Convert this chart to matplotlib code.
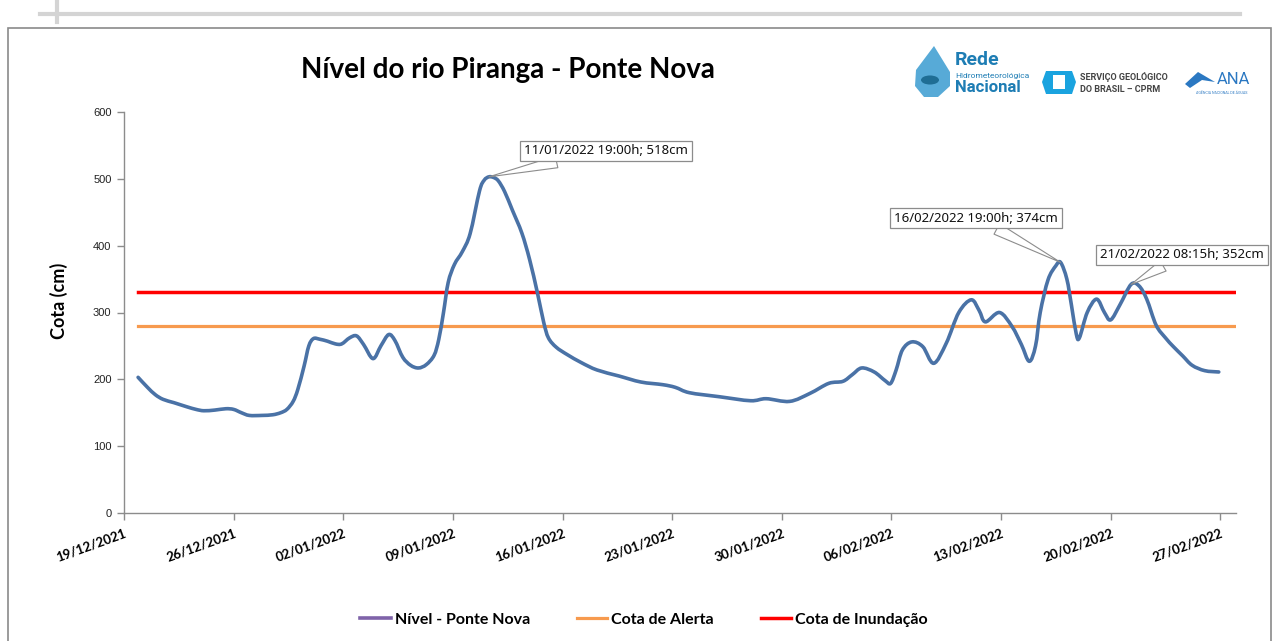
import numpy as np
import pandas as pd
import matplotlib
matplotlib.use("Agg")
import matplotlib.pyplot as plt
import matplotlib.dates as mdates
from matplotlib.patches import Rectangle, Polygon, Circle, PathPatch
from matplotlib.path import Path
from matplotlib.lines import Line2D

# --- data ---
start = pd.Timestamp("2021-12-19")
# days after 19/12/2021 and river level (cm)
nivel_dias = [0.9, 1.5, 2.0, 2.5, 3.2, 4.0, 4.6, 5.1, 5.8, 6.5, 7.0, 7.5, 8.0, 8.8,
              9.5, 10.0, 10.4, 10.8, 11.1, 11.5, 11.8, 12.1, 12.5, 13.0, 13.5, 13.9,
              14.4, 14.85, 15.3, 15.9, 16.4, 16.9, 17.3, 17.8, 18.3, 18.8, 19.3, 19.8,
              20.1, 20.4, 20.7, 21.1, 21.6, 22.1, 22.7, 23.0, 23.3, 23.6, 23.9, 24.3,
              24.8, 25.4, 25.9, 26.4, 26.8, 27.1, 27.6, 28.3, 29.2, 30.2, 31.6, 33.0,
              34.4, 35.2, 36.1, 38.0, 40.0, 41.0, 42.5, 43.8, 45.0, 45.9, 46.5, 47.1,
              47.9, 48.6, 48.95, 49.3, 49.7, 50.3, 51.0, 51.7, 52.5, 53.3, 54.1, 54.6,
              55.0, 55.9, 56.7, 57.3, 57.8, 58.2, 58.5, 59.0, 59.5, 59.8, 60.2, 60.5,
              60.8, 61.0, 61.5, 62.1, 62.6, 63.0, 63.6, 64.3, 64.8, 65.3, 65.9, 66.5,
              67.0, 67.6, 68.2, 69.0, 69.9]
nivel_cm = [203, 188, 177, 170, 165, 159, 155, 153, 154, 156, 155, 150, 146, 146,
            147, 150, 155, 167, 185, 220, 250, 261, 260, 257, 253, 253,
            262, 265, 252, 231, 250, 267, 258, 233, 221, 217, 222, 236,
            260, 300, 345, 372, 391, 418, 482, 498, 503, 502, 497, 481,
            453, 419, 379, 329, 285, 262, 248, 237, 225, 214, 205, 196,
            192, 188, 180, 174, 168, 171, 167, 179, 194, 197, 207, 217,
            211, 198, 194, 214, 244, 256, 249, 224, 254, 300, 319, 303,
            286, 300, 279, 252, 227, 250, 300, 349, 370, 375, 350, 310,
            268, 262, 300, 320, 300, 289, 312, 342, 340, 320, 281, 262,
            249, 235, 221, 213, 211]

cota_alerta = 280
cota_inundacao = 330
cota_dias = [0.9, 71.0]

# callouts: label, day of the drawn peak, value of the drawn peak
picos_texto = ["11/01/2022 19:00h; 518cm", "16/02/2022 19:00h; 374cm",
               "21/02/2022 08:15h; 352cm"]
picos_dias = [23.3, 59.8, 64.3]
picos_cm = [503, 375, 342]

tick_dias = list(range(0, 71, 7))

datas = start + pd.to_timedelta(nivel_dias, unit="D")
cota_datas = start + pd.to_timedelta(cota_dias, unit="D")
pico_datas = start + pd.to_timedelta(picos_dias, unit="D")
ticks = start + pd.to_timedelta(tick_dias, unit="D")


# Excel-like smoothed line: Catmull-Rom segments as cubic Bezier curves
def smooth_path(x, y):
    P = np.column_stack([x, y])
    n = len(P)
    verts = [P[0]]
    codes = [Path.MOVETO]
    for i in range(n - 1):
        p0 = P[i - 1] if i > 0 else P[i]
        p3 = P[i + 2] if i + 2 < n else P[i + 1]
        c1 = P[i] + (P[i + 1] - p0) / 6
        c2 = P[i + 1] - (p3 - P[i]) / 6
        verts += [c1, c2, P[i + 1]]
        codes += [Path.CURVE4] * 3
    return Path(verts, codes)


W, H = 1273, 641
fig = plt.figure(figsize=(W / 100, H / 100), dpi=100)
fig.patch.set_facecolor("white")

ax = fig.add_axes([124 / W, 1 - 513 / H, (1236 - 124) / W, (513 - 112) / H])

azul = "#4A72A6"
xnum = mdates.date2num(datas)
ax.add_patch(PathPatch(smooth_path(xnum, nivel_cm), fill=False, ec=azul, lw=2.6,
                       joinstyle="round", capstyle="round", zorder=3))
ax.plot(cota_datas, [cota_alerta] * 2, color="#F79A4E", lw=2.3, zorder=2)
ax.plot(cota_datas, [cota_inundacao] * 2, color="#FF0000", lw=2.5, zorder=2)

ax.set_ylim(0, 600)
ax.set_yticks(range(0, 601, 100))
ax.set_xlim(start, start + pd.Timedelta(days=71))
ax.set_xticks(ticks)
ax.xaxis.set_major_formatter(mdates.DateFormatter("%d/%m/%Y"))

for s in ["top", "right"]:
    ax.spines[s].set_visible(False)
for s in ["left", "bottom"]:
    ax.spines[s].set_color("#8C8C8C")
    ax.spines[s].set_linewidth(1.0)
ax.tick_params(axis="both", color="#8C8C8C", length=5, width=1, direction="out")
ax.tick_params(axis="y", labelsize=8, labelcolor="#222222", pad=4)
for lab in ax.get_yticklabels():
    lab.set_fontfamily("Liberation Sans")
for lab in ax.get_xticklabels():
    lab.set_rotation(20)
    lab.set_ha("right")
    lab.set_rotation_mode("anchor")
    lab.set_fontfamily("Lato")
    lab.set_fontweight("bold")
    lab.set_fontsize(9.5)
ax.tick_params(axis="x", pad=5)

ax.set_ylabel("Cota (cm)", fontsize=13, fontweight="bold", family="Lato")
ax.yaxis.set_label_coords(-0.05, 0.53)

fig.text(508 / W, 1 - 70 / H, "Nível do rio Piranga - Ponte Nova", ha="center",
         va="center", fontsize=20, fontweight="bold", family="Lato")

# callouts
caixas = [(606, 151), (976, 218), (1182, 255)]
for txt, d, v, (cx, cy) in zip(picos_texto, pico_datas, picos_cm, caixas):
    ax.annotate(txt, xy=(d, v), xytext=(cx, H - cy), textcoords="figure pixels",
                ha="center", va="center", fontsize=9.5, family="Noto Sans",
                color="#111111", annotation_clip=False, zorder=5,
                bbox=dict(boxstyle="square,pad=0.3", fc="white", ec="#8C8C8C", lw=0.9),
                arrowprops=dict(arrowstyle="wedge,tail_width=0.9,shrink_factor=0.5",
                                fc="white", ec="#8C8C8C", lw=0.8,
                                shrinkA=0, shrinkB=0))

# legend
handles = [Line2D([], [], color="#7F63A9", lw=2.6),
           Line2D([], [], color="#F79A4E", lw=2.3),
           Line2D([], [], color="#FF0000", lw=2.5)]
labels = ["Nível - Ponte Nova", "Cota de Alerta", "Cota de Inundação"]
fig.legend(handles, labels, loc="center", bbox_to_anchor=(0.506, 1 - 620 / H),
           ncol=3, frameon=False, handlelength=1.9, columnspacing=2.95,
           handletextpad=0.25,
           prop={"family": "Lato", "weight": "bold", "size": 11.5})

# frame and page decoration
fig.add_artist(Rectangle((8 / W, -0.01), (1271 - 8) / W, 1 - 28 / H + 0.01,
                         transform=fig.transFigure, fill=False, ec="#8A8A8A", lw=1.2))
fig.add_artist(plt.Line2D([40 / W, 1240 / W], [1 - 14 / H, 1 - 14 / H],
                          transform=fig.transFigure, color="#D4D4D4", lw=3))
fig.add_artist(plt.Line2D([57 / W, 57 / W], [1, 1 - 22 / H],
                          transform=fig.transFigure, color="#D4D4D4", lw=3))

# logos (approximated)
drop = Polygon([[934 / W, 1 - 46 / H], [950 / W, 1 - 72 / H], [950 / W, 1 - 86 / H],
                [938 / W, 1 - 97 / H], [924 / W, 1 - 97 / H], [915 / W, 1 - 86 / H],
                [916 / W, 1 - 70 / H]], closed=True, transform=fig.transFigure,
               fc="#3A9BD0", ec="none", alpha=0.85)
fig.add_artist(drop)
fig.add_artist(Circle((930 / W, 1 - 80 / H), 9 / W, transform=fig.transFigure,
                      fc="#1F6D94", ec="none"))
fig.text(955 / W, 1 - 60 / H, "Rede", fontsize=14, fontweight="bold",
         family="Roboto", color="#1E7DB4", va="center", fontstretch="condensed")
fig.text(955 / W, 1 - 76 / H, "Hidrometeorológica", fontsize=6, family="Roboto",
         color="#1E7DB4", va="center")
fig.text(955 / W, 1 - 88 / H, "Nacional", fontsize=12, fontweight="bold",
         family="Roboto", color="#1E7DB4", va="center")
hexa = Polygon([[1046 / W, 1 - 71 / H], [1072 / W, 1 - 71 / H], [1076 / W, 1 - 82 / H],
                [1072 / W, 1 - 94 / H], [1046 / W, 1 - 94 / H], [1042 / W, 1 - 82 / H]],
               closed=True, transform=fig.transFigure, fc="#1AA3DF", ec="none")
fig.add_artist(hexa)
fig.add_artist(Rectangle((1053 / W, 1 - 89 / H), 12 / W, 14 / H,
                         transform=fig.transFigure, fc="white", ec="none"))
fig.text(1080 / W, 1 - 77 / H, "SERVIÇO GEOLÓGICO", fontsize=6.5, fontweight="bold",
         family="Roboto", color="#444444", va="center")
fig.text(1080 / W, 1 - 89 / H, "DO BRASIL – CPRM", fontsize=6.5, fontweight="bold",
         family="Roboto", color="#444444", va="center")
wave = Polygon([[1185 / W, 1 - 84 / H], [1198 / W, 1 - 72 / H], [1215 / W, 1 - 82 / H],
                [1202 / W, 1 - 80 / H], [1190 / W, 1 - 88 / H]], closed=True,
               transform=fig.transFigure, fc="#2B78C2", ec="none")
fig.add_artist(wave)
fig.text(1217 / W, 1 - 79 / H, "ANA", fontsize=12, family="Roboto",
         color="#2B78C2", va="center")
fig.text(1222 / W, 1 - 93 / H, "AGÊNCIA NACIONAL DE ÁGUAS", fontsize=2.6,
         family="Roboto", color="#2B78C2", va="center", ha="center")

fig.savefig("out.png", dpi=100)
